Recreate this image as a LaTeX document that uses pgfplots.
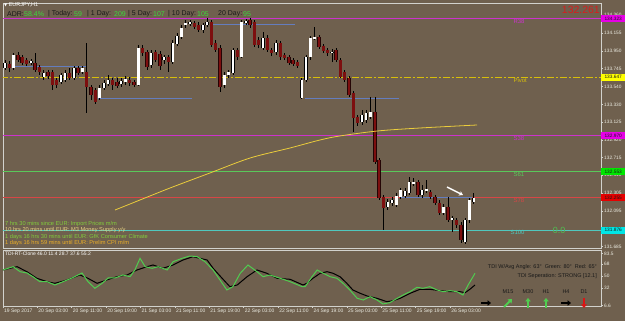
\documentclass[border=0pt]{standalone}
\usepackage{pgfplots}
\pgfplotsset{compat=1.18}
\usepackage{pgfplotstable}
\usepackage{fontspec}
\setmainfont{Liberation Sans}
\newfontfamily\dejavu{DejaVu Sans}
\usetikzlibrary{arrows.meta}

\definecolor{bgc}{RGB}{111,96,78}
\definecolor{framec}{RGB}{210,210,205}
\definecolor{lblc}{RGB}{235,235,225}
\definecolor{magl}{RGB}{205,50,205}
\definecolor{pivl}{RGB}{215,190,10}
\definecolor{grnl}{RGB}{90,200,90}
\definecolor{redl}{RGB}{215,70,70}
\definecolor{cyal}{RGB}{80,200,190}
\definecolor{bluel}{RGB}{100,125,190}
\definecolor{mayel}{RGB}{235,205,60}
\definecolor{bear}{RGB}{125,15,15}
\definecolor{tdig}{RGB}{80,205,80}
\definecolor{newsg}{RGB}{130,205,60}
\definecolor{newsy}{RGB}{230,210,130}
\definecolor{newso}{RGB}{235,175,40}
\definecolor{adrg}{RGB}{60,215,60}
\definecolor{darkt}{RGB}{25,25,25}
\definecolor{tagmag}{RGB}{230,0,230}
\definecolor{tagyel}{RGB}{255,255,0}
\definecolor{taggrn}{RGB}{0,230,0}
\definecolor{tagred}{RGB}{230,0,0}
\definecolor{tagcya}{RGB}{0,230,230}
\definecolor{bigred}{RGB}{215,30,30}
\definecolor{zerog}{RGB}{80,190,80}
\definecolor{arrred}{RGB}{220,20,20}

\pgfplotstableread{
x o h l c
0 133.753 133.846 133.730 133.811
2 133.753 133.927 133.730 133.903
6 133.811 133.857 133.788 133.834
9 133.649 133.730 133.614 133.695
13 133.591 133.695 133.568 133.672
14 133.614 133.730 133.591 133.695
16 133.637 133.776 133.614 133.753
18 133.707 133.776 133.684 133.753
22 133.406 133.556 133.383 133.521
23 133.521 133.614 133.498 133.579
24 133.568 133.672 133.545 133.614
27 133.568 133.637 133.533 133.602
28 133.591 133.660 133.556 133.626
31 133.556 134.019 133.545 133.984
34 133.788 133.961 133.753 133.927
37 133.846 133.903 133.799 133.880
39 133.822 134.077 133.799 134.043
40 134.031 134.158 134.008 134.123
41 134.112 134.251 134.089 134.216
42 134.251 134.309 134.216 134.274
43 134.262 134.309 134.239 134.287
46 134.193 134.274 134.158 134.251
47 134.251 134.332 134.227 134.287
51 133.556 133.707 133.521 133.672
52 133.672 133.730 133.637 133.707
53 133.695 133.984 133.672 133.961
55 133.880 134.309 133.869 134.287
56 134.274 134.320 134.251 134.297
60 133.984 134.170 133.961 134.100
63 133.938 134.077 133.903 134.043
69 133.406 133.637 133.394 133.614
70 133.614 133.903 133.591 133.880
71 133.880 134.123 133.846 134.100
72 134.089 134.227 134.077 134.112
76 133.927 133.973 133.822 133.938
83 133.128 133.267 133.093 133.209
84 133.151 133.267 133.116 133.232
85 133.186 133.417 133.162 133.244
89 132.144 132.237 132.109 132.202
90 132.190 132.260 132.156 132.225
91 132.167 132.306 132.144 132.271
92 132.260 132.364 132.237 132.341
93 132.271 132.364 132.248 132.329
94 132.306 132.491 132.283 132.433
95 132.410 132.480 132.387 132.433
97 132.283 132.399 132.248 132.341
98 132.329 132.457 132.306 132.352
102 132.074 132.179 132.051 132.144
104 131.994 132.040 131.855 132.017
107 131.739 132.017 131.716 131.994
108 131.994 132.248 131.959 132.225
109 132.202 132.306 132.179 132.248
}\up

\pgfplotstableread{
x o h l c
1 133.799 133.834 133.707 133.753
3 133.903 133.938 133.822 133.846
4 133.880 133.903 133.788 133.811
5 133.846 133.869 133.776 133.799
7 133.811 133.927 133.707 133.730
8 133.765 133.788 133.672 133.707
10 133.707 133.730 133.626 133.660
11 133.707 133.730 133.498 133.556
12 133.614 133.637 133.521 133.556
15 133.695 133.753 133.614 133.637
17 133.753 133.776 133.672 133.695
19 133.707 134.043 133.232 133.533
20 133.533 133.556 133.383 133.440
21 133.498 133.521 133.336 133.359
25 133.614 133.637 133.498 133.556
26 133.591 133.637 133.521 133.545
29 133.614 133.649 133.545 133.579
30 133.591 133.614 133.533 133.556
32 133.984 134.019 133.892 133.927
33 133.938 133.961 133.730 133.765
35 133.938 133.961 133.822 133.846
36 133.915 133.950 133.730 133.776
38 133.880 133.903 133.707 133.822
44 134.274 134.297 134.204 134.227
45 134.251 134.287 134.170 134.193
48 134.287 134.309 133.996 134.019
49 134.043 134.077 133.938 133.961
50 133.984 134.019 133.475 133.533
54 133.961 133.984 133.846 133.880
57 134.309 134.332 134.216 134.251
58 134.287 134.309 133.996 134.019
59 134.077 134.112 133.984 134.019
61 134.100 134.135 133.938 133.961
62 133.961 133.984 133.892 133.927
64 134.043 134.065 133.846 133.880
65 133.903 133.927 133.846 133.869
66 133.880 133.903 133.788 133.811
67 133.846 133.869 133.776 133.799
68 133.822 133.846 133.753 133.776
73 134.112 134.135 133.973 133.996
74 134.008 134.031 133.927 133.950
75 133.961 133.984 133.892 133.927
77 133.961 133.984 133.822 133.846
78 133.846 133.869 133.637 133.649
79 133.707 133.730 133.591 133.614
80 133.637 133.660 133.417 133.440
81 133.464 133.487 133.012 133.174
82 133.186 133.209 133.082 133.116
86 133.244 133.417 132.642 132.665
87 132.688 132.711 132.225 132.248
88 132.260 132.283 131.878 132.132
96 132.433 132.457 132.260 132.283
99 132.318 132.341 132.237 132.260
100 132.260 132.283 132.167 132.190
101 132.190 132.225 132.051 132.074
103 132.144 132.260 131.970 131.994
105 131.994 132.017 131.901 131.936
106 131.936 131.970 131.727 131.762
}\dn

\begin{document}
\begin{tikzpicture}
\fill[bgc] (0,0) rectangle (625bp,321bp);
\useasboundingbox (0,0) rectangle (625bp,321bp);

% ---------------- main price panel ----------------
\begin{axis}[
  at={(3bp,73bp)}, anchor=south west, scale only axis,
  width=598bp, height=245bp,
  xmin=-0.465, xmax=138.6, ymin=131.669, ymax=134.505,
  axis line style={draw=framec, line width=0.7bp},
  xtick=\empty,
  ytick={131.685,132.095,132.305,132.510,132.715,132.920,133.125,133.330,133.540,133.745,133.950,134.155,134.360},
  yticklabels={131.685,132.095,132.305,132.510,132.715,132.920,133.125,133.330,133.540,133.745,133.950,134.155,{\raisebox{1.2bp}{134.360}}},
  ytick pos=right, yticklabel pos=right,
  tick align=outside, major tick length=2bp,
  tick style={draw=framec, line width=0.5bp},
  yticklabel style={font=\fontsize{4.8}{5}\selectfont, text=lblc, inner sep=1bp},
  clip mode=individual,
]
% pivot levels
\addplot[magl, line width=1bp] coordinates {(-1,134.323) (140,134.323)};
\addplot[draw=pivl, line width=1.1bp, dash pattern=on 7bp off 2bp on 2bp off 2bp] coordinates {(-1,133.647) (140,133.647)};
\addplot[magl, line width=1bp] coordinates {(-1,132.970) (140,132.970)};
\addplot[grnl, line width=0.8bp] coordinates {(-1,132.553) (140,132.553)};
\addplot[redl, line width=0.8bp] coordinates {(-1,132.255) (140,132.255)};
\addplot[cyal, line width=0.9bp] coordinates {(-1,131.876) (140,131.876)};
% day high/low segments
\addplot[bluel, line width=0.8bp] coordinates {(1.9,133.776) (19.1,133.776)};
\addplot[bluel, line width=0.8bp] coordinates {(21.6,133.406) (43.5,133.406)};
\addplot[bluel, line width=0.8bp] coordinates {(47.7,134.262) (67.4,134.262)};
\addplot[bluel, line width=0.8bp] coordinates {(69.8,133.406) (91.6,133.406)};
\addplot[bluel, line width=0.8bp] coordinates {(91.9,132.260) (108.6,132.260)};
% candles: wicks
\addplot[black, line width=0.6bp, quiver={u=0, v=\thisrow{h}-\thisrow{l}}] table[x=x, y=l] {\up};
\addplot[black, line width=0.6bp, quiver={u=0, v=\thisrow{h}-\thisrow{l}}] table[x=x, y=l] {\dn};
% candles: bodies
\addplot[black, line width=3.4bp, quiver={u=0, v=\thisrow{c}-\thisrow{o}}] table[x=x, y=o] {\up};
\addplot[white, line width=2.4bp, quiver={u=0, v=\thisrow{c}-\thisrow{o}}] table[x=x, y=o] {\up};
\addplot[black!70!bear, line width=3.4bp, quiver={u=0, v=\thisrow{c}-\thisrow{o}}] table[x=x, y=o] {\dn};
\addplot[bear, line width=2.6bp, quiver={u=0, v=\thisrow{c}-\thisrow{o}}] table[x=x, y=o] {\dn};
% moving average
\addplot[mayel, line width=0.8bp, smooth] coordinates {
(25.6,132.109) (31.4,132.225) (38.4,132.364) (47.7,132.538) (57.0,132.711)
(66.3,132.827) (73.3,132.920) (77.9,132.966) (86.7,133.024) (96.5,133.058) (109.8,133.093)};
% level labels
\node[anchor=north west, inner sep=0.5bp, text=magl, font=\fontsize{6}{6}\selectfont] at (axis cs:118.1,134.323) {R38};
\node[anchor=north west, inner sep=0.5bp, text=pivl, font=\fontsize{6}{6}\selectfont] at (axis cs:118.1,133.647) {Pivot};
\node[anchor=north west, inner sep=0.5bp, text=magl, font=\fontsize{6}{6}\selectfont] at (axis cs:118.1,132.970) {S38};
\node[anchor=north west, inner sep=0.5bp, text=grnl, font=\fontsize{6}{6}\selectfont] at (axis cs:118.1,132.553) {S61};
\node[anchor=north west, inner sep=0.5bp, text=redl, font=\fontsize{6}{6}\selectfont] at (axis cs:118.1,132.255) {S78};
\node[anchor=north west, inner sep=0.5bp, text=cyal, font=\fontsize{6}{6}\selectfont] at (axis cs:117.4,131.876) {S100};
% price tags on the scale
\node[anchor=west, fill=tagmag, minimum width=24bp, minimum height=7bp, inner sep=0pt, font=\fontsize{4.8}{5}\selectfont, text=darkt] at (axis cs:138.6,134.323) {134.323};
\node[anchor=west, fill=tagyel, minimum width=24bp, minimum height=7bp, inner sep=0pt, font=\fontsize{4.8}{5}\selectfont, text=darkt] at (axis cs:138.6,133.647) {133.647};
\node[anchor=west, fill=tagmag, minimum width=24bp, minimum height=7bp, inner sep=0pt, font=\fontsize{4.8}{5}\selectfont, text=darkt] at (axis cs:138.6,132.970) {132.970};
\node[anchor=west, fill=taggrn, minimum width=24bp, minimum height=7bp, inner sep=0pt, font=\fontsize{4.8}{5}\selectfont, text=darkt] at (axis cs:138.6,132.553) {132.553};
\node[anchor=west, fill=tagred, minimum width=24bp, minimum height=7bp, inner sep=0pt, font=\fontsize{4.8}{5}\selectfont, text=darkt] at (axis cs:138.6,132.255) {132.255};
\node[anchor=west, fill=tagcya, minimum width=24bp, minimum height=7bp, inner sep=0pt, font=\fontsize{4.8}{5}\selectfont, text=darkt] at (axis cs:138.6,131.876) {131.876};
\end{axis}

% ---------------- TDI panel ----------------
\begin{axis}[
  at={(3bp,15bp)}, anchor=south west, scale only axis,
  width=598bp, height=56bp,
  xmin=-0.465, xmax=138.6, ymin=5.8, ymax=88.7,
  axis line style={draw=framec, line width=0.7bp},
  ytick={6.6,32,50,68,83.5}, yticklabels={6.6,32,50,68,83.5},
  ytick pos=right, yticklabel pos=right,
  xtick={-0.46,7.5,15.5,23.5,31.5,39.5,47.5,55.5,63.5,71.5,79.5,87.5,95.5,103.5},
  xticklabels={19 Sep 2017,20 Sep 03:00,20 Sep 11:00,20 Sep 19:00,21 Sep 03:00,21 Sep 11:00,21 Sep 19:00,22 Sep 03:00,22 Sep 11:00,24 Sep 19:00,25 Sep 03:00,25 Sep 11:00,25 Sep 19:00,26 Sep 03:00},
  xtick pos=bottom,
  tick align=outside, major tick length=2bp,
  tick style={draw=framec, line width=0.5bp},
  yticklabel style={font=\fontsize{4.8}{5}\selectfont, text=lblc, inner sep=1bp},
  xticklabel style={font=\fontsize{5}{5}\selectfont, text=lblc, anchor=north west, inner sep=0.5bp, xshift=0.5bp},
  clip mode=individual,
]
\addplot[black, line width=1bp] coordinates {
(-0.5,59.1) (2.8,64.0) (5.1,56.6) (7.4,46.8) (9.8,41.8) (11.6,39.4) (14.4,44.3) (17.4,51.7)
(19.3,46.8) (21.4,39.4) (23.7,44.3) (26.0,49.2) (28.4,51.7) (30.7,59.1) (33.0,64.0) (34.4,66.5)
(36.7,61.6) (39.1,66.5) (41.4,73.9) (43.7,78.8) (47.0,73.9) (48.4,61.6) (50.5,46.8) (52.3,34.4)
(54.0,36.9) (56.3,49.2) (58.6,59.1) (60.9,54.2) (63.3,46.8) (66.3,45.3) (69.3,36.9) (70.2,39.4)
(71.6,46.8) (73.3,54.2) (74.9,56.6) (76.3,54.2) (77.9,49.2) (79.5,39.4) (80.9,29.5) (82.6,24.6)
(84.2,20.6) (86.5,17.2) (88.8,12.2) (90.2,13.6) (91.9,17.2) (94.2,24.6) (96.5,30.5) (98.8,30.5)
(101.2,28.5) (103.5,27.0) (105.8,27.0) (107.0,25.5) (108.1,30.5) (109.3,36.9)};
\addplot[tdig, line width=1bp] coordinates {
(-0.5,59.1) (1.9,64.0) (3.5,56.6) (5.1,54.7) (6.5,49.2) (8.1,41.8) (9.8,41.8) (11.6,36.9)
(13.5,41.8) (15.6,47.3) (17.9,54.7) (19.3,41.8) (20.9,32.0) (22.6,39.4) (24.0,47.3) (25.6,47.3)
(27.4,51.7) (29.1,49.2) (30.2,59.1) (31.4,76.4) (32.6,64.0) (34.2,61.6) (35.6,64.0) (37.7,59.1)
(39.1,71.4) (41.2,76.4) (43.0,79.8) (44.7,78.8) (46.5,71.4) (48.4,59.1) (50.0,44.3) (51.6,29.5)
(53.0,34.4) (54.7,54.2) (56.5,66.5) (58.6,56.6) (60.0,49.2) (61.6,51.7) (64.0,46.8) (66.3,41.8)
(69.1,34.4) (69.8,34.4) (71.4,49.2) (72.6,59.1) (74.0,54.2) (75.6,49.2) (77.2,46.8) (78.6,39.4)
(80.2,29.5) (81.9,17.2) (83.3,14.7) (84.9,19.6) (86.5,14.7) (87.9,8.8) (89.5,10.7) (91.2,17.2)
(92.6,22.1) (94.2,27.0) (95.8,33.5) (97.2,32.0) (98.8,34.4) (100.5,29.5) (101.9,27.0) (103.5,28.5)
(105.1,27.0) (106.5,22.1) (107.7,36.9) (109.3,54.2)};
\end{axis}

% ---------------- texts ----------------
\node[anchor=west, inner sep=0, text=white, font=\fontsize{5.5}{6}\selectfont] at (4bp,316bp) {{\dejavu\fontsize{4}{4}\selectfont ▼} EURJPY,H1};
\begin{scope}[every node/.style={anchor=west, inner sep=0, font=\fontsize{7}{8}\selectfont}]
\node[text=darkt] at (7bp,307bp) {ADR:};
\node[text=adrg] at (24bp,307bp) {58.4\%};
\node[text=darkt] at (48bp,307bp) {| Today:};
\node[text=adrg] at (74bp,307bp) {59};
\node[text=darkt] at (87bp,307bp) {| 1 Day:};
\node[text=adrg] at (114bp,307bp) {209};
\node[text=darkt] at (128bp,307bp) {| 5 Day:};
\node[text=adrg] at (153bp,307bp) {107};
\node[text=darkt] at (168bp,307bp) {| 10 Day:};
\node[text=adrg] at (197bp,307bp) {105};
\node[text=darkt] at (218bp,307bp) {20 Day:};
\node[text=adrg] at (243bp,307bp) {95};
\end{scope}
\node[anchor=east, inner sep=0, text=bigred, font=\fontsize{10.5}{11}\selectfont] at (600bp,311bp) {132.261};
\node[inner sep=0, text=zerog, font=\fontsize{9}{9}\selectfont] at (559bp,91bp) {0.0};
\begin{scope}[every node/.style={anchor=west, inner sep=0, font=\fontsize{5.7}{6}\selectfont}]
\node[text=newsg] at (5bp,97bp) {7 hrs 30 mins since EUR: Import Prices m/m};
\node[text=newsy] at (5bp,90.5bp) {10 hrs 20 mins until EUR: M3 Money Supply y/y};
\node[text=newsg] at (5bp,84bp) {1 days 16 hrs 30 mins until EUR: GfK Consumer Climate};
\node[text=newso] at (5bp,77.5bp) {1 days 16 hrs 59 mins until EUR: Prelim CPI m/m};
\end{scope}
\draw[white, line width=1.4bp, -{Stealth[length=4bp,width=5bp]}] (447bp,134bp) -- (463bp,126bp);
\node[anchor=west, inner sep=0, text=white, font=\fontsize{5}{6}\selectfont] at (5bp,67bp) {TDI-RT-Clone 46.0 11.4 28.7 37.6 55.2};
\node[anchor=east, inner sep=0, text=darkt, font=\fontsize{5.5}{6}\selectfont] at (597bp,54bp) {TDI W/Avg Angle: 63°\ \ Green: 80°\ \ Red: 65°};
\node[anchor=east, inner sep=0, text=darkt, font=\fontsize{5.5}{6}\selectfont] at (597bp,45bp) {TDI Seperation: STRONG [12.1]};
\begin{scope}[every node/.style={inner sep=0, text=darkt, font=\fontsize{5.5}{6}\selectfont}]
\node at (508bp,29bp) {M15};
\node at (528bp,29bp) {M30};
\node at (546bp,29bp) {H1};
\node at (566bp,29bp) {H4};
\node at (584bp,29bp) {D1};
\end{scope}
\begin{scope}[line width=1.8bp]
\draw[black, -{Triangle[length=3.5bp,width=5.5bp]}] (481bp,18bp) -- (491bp,18bp);
\draw[tdig, -{Triangle[length=3.5bp,width=5.5bp]}] (504bp,14bp) -- (512bp,22bp);
\draw[tdig, -{Triangle[length=3.5bp,width=5.5bp]}] (528bp,13bp) -- (528bp,23bp);
\draw[tdig, -{Triangle[length=3.5bp,width=5.5bp]}] (546bp,13bp) -- (546bp,23bp);
\draw[black, -{Triangle[length=3.5bp,width=5.5bp]}] (561bp,18bp) -- (571bp,18bp);
\draw[arrred, -{Triangle[length=3.5bp,width=5.5bp]}] (584bp,23bp) -- (584bp,13bp);
\end{scope}
\end{tikzpicture}
\end{document}
